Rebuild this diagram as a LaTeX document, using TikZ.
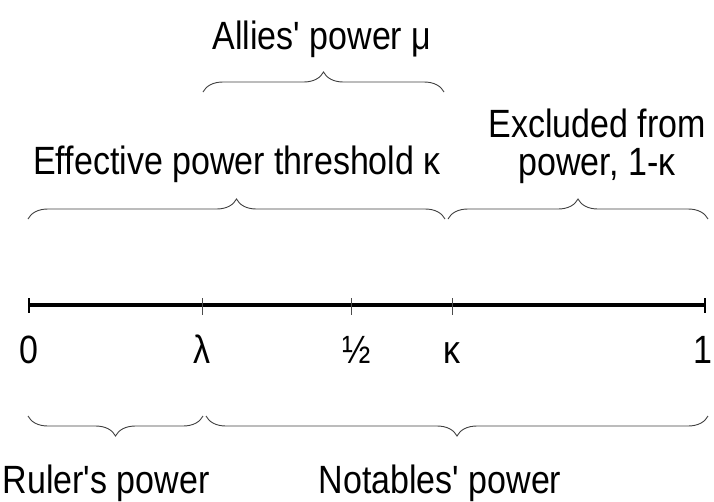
\documentclass[tikz,border=0pt]{standalone}
\usepackage{fontspec}
\setmainfont{Liberation Sans}
\usetikzlibrary{decorations.pathreplacing}
\newcommand{\tall}[1]{\scalebox{1}[1.16]{#1}}
\begin{document}
\begin{tikzpicture}[x=1pt,y=-1pt,
  lbl/.style={font=\fontsize{34}{38}\selectfont, inner sep=0pt, anchor=base},
  brc/.style={draw=black!75, line width=0.9pt, decorate, decoration={brace, amplitude=20pt}},
  axisline/.style={line width=4pt, black},
  endtick/.style={line width=2pt, black},
  tick/.style={line width=0.8pt, black!70}]
\useasboundingbox (0,0) rectangle (714,501);
% axis
\coordinate (a0) at (29,305);
\coordinate (a1) at (705,305);
\draw[axisline] (a0) -- (a1);
\draw[endtick] (29,298) -- (29,313);
\draw[endtick] (705,298) -- (705,313);
\foreach \x in {202,351,452} \draw[tick] (\x,298) -- (\x,315);
% axis labels
\node[lbl] (l0) at (29,363) {\tall{0}};
\node[lbl] (llam) at (202,363) {\tall{λ}};
\node[lbl] (lhalf) at (357,363) {\tall{½}};
\node[lbl] (lkap) at (452,363) {\tall{κ}};
\node[lbl] (l1) at (703,363) {\tall{1}};
% top braces
\coordinate (t1a) at (28,219);
\coordinate (t1b) at (445,219);
\coordinate (t2a) at (448,219);
\coordinate (t2b) at (708,219);
\draw[brc] (t1a) -- (t1b);
\draw[brc] (t2a) -- (t2b);
\coordinate (m1) at (203,92);
\coordinate (m2) at (444,92);
\draw[brc] (m1) -- (m2);
% bottom braces
\coordinate (b1a) at (28,416);
\coordinate (b1b) at (203,416);
\coordinate (b2a) at (206,416);
\coordinate (b2b) at (708,416);
\draw[brc] (b1b) -- (b1a);
\draw[brc] (b2b) -- (b2a);
% texts
\node[lbl] (allies) at (322,49) {\tall{Allies\textquotesingle\ power μ}};
\node[lbl] (eff) at (237,174) {\tall{Effective power threshold κ}};
\node[lbl] (excl) at (597,137) {\tall{Excluded from}};
\node[lbl] (excl2) at (597,175) {\tall{power, 1-κ}};
\node[lbl] (ruler) at (106,493) {\tall{Ruler\textquotesingle s power}};
\node[lbl] (notab) at (440,493) {\tall{Notables\textquotesingle\ power}};
\end{tikzpicture}
\end{document}
